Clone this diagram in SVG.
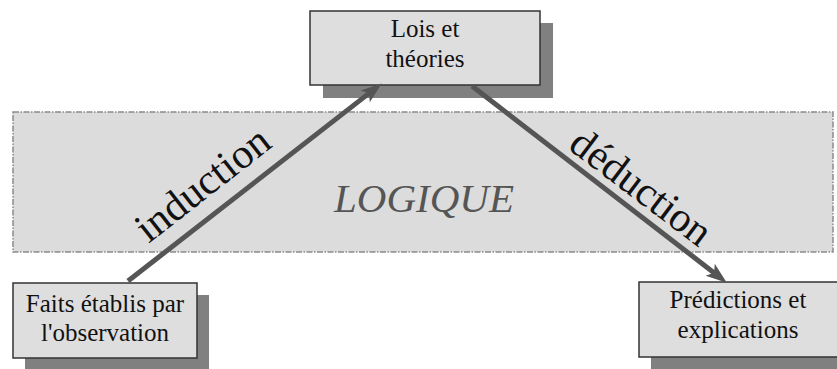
<svg xmlns="http://www.w3.org/2000/svg" width="837" height="369" viewBox="0 0 837 369" font-family="'Liberation Serif', 'Times New Roman', serif">
<style>
  .box { fill: #dedede; stroke: #333; stroke-width: 1.5; }
  .shadow { fill: #808080; }
  .lbl { font-family: 'Liberation Serif', serif; font-size: 25px; fill: #111; text-anchor: middle; }
  .edge { font-family: 'Liberation Serif', serif; font-size: 42px; fill: #111; text-anchor: middle; }
  .conn { stroke: #555; stroke-width: 5; fill: none; }
</style>
<defs>
  <marker id="arr" markerUnits="userSpaceOnUse" viewBox="-10 -10 25 20" refX="0" refY="0" markerWidth="25" markerHeight="20" orient="auto">
    <path d="M13,0 L-8,-7.5 L-3,0 L-8,7.5 Z" fill="#555"/>
  </marker>
</defs>
<rect width="837" height="369" fill="#fff"/>
<g id="logique">
  <rect x="13" y="112" width="820" height="140" fill="#dcdcdc" stroke="#8a8a8a" stroke-width="1.5" stroke-dasharray="6 1.5 1.5 1.5"/>
  <text x="424" y="212" font-family="'Liberation Serif', serif" font-style="italic" font-size="41" fill="#555" text-anchor="middle">LOGIQUE</text>
</g>
<g id="lois" font-family="'Liberation Serif', serif">
  <rect class="shadow" x="323" y="23" width="230" height="75"/>
  <rect class="box" x="310" y="11" width="230" height="74"/>
  <text class="lbl" x="425" y="37">Lois et</text>
  <text class="lbl" x="425" y="67">théories</text>
</g>
<g id="faits" font-family="'Liberation Serif', serif">
  <rect class="shadow" x="25" y="295" width="184" height="80"/>
  <rect class="box" x="13" y="283" width="184" height="75"/>
  <text class="lbl" x="105" y="312">Faits établis par</text>
  <text class="lbl" x="105" y="341">l'observation</text>
</g>
<g id="predictions" font-family="'Liberation Serif', serif">
  <rect class="shadow" x="651" y="294" width="200" height="80"/>
  <rect class="box" x="639" y="282" width="200" height="75"/>
  <text class="lbl" x="738" y="308">Prédictions et</text>
  <text class="lbl" x="738" y="338">explications</text>
</g>
<g id="connectors">
  <line class="conn" x1="128" y1="281" x2="371.5" y2="91.4" marker-end="url(#arr)"/>
  <line class="conn" x1="472" y1="86" x2="716.5" y2="274.7" marker-end="url(#arr)"/>
  <text class="edge" transform="translate(211,195) rotate(-38)">induction</text>
  <text class="edge" transform="translate(633,198) rotate(37)">déduction</text>
</g>
</svg>
